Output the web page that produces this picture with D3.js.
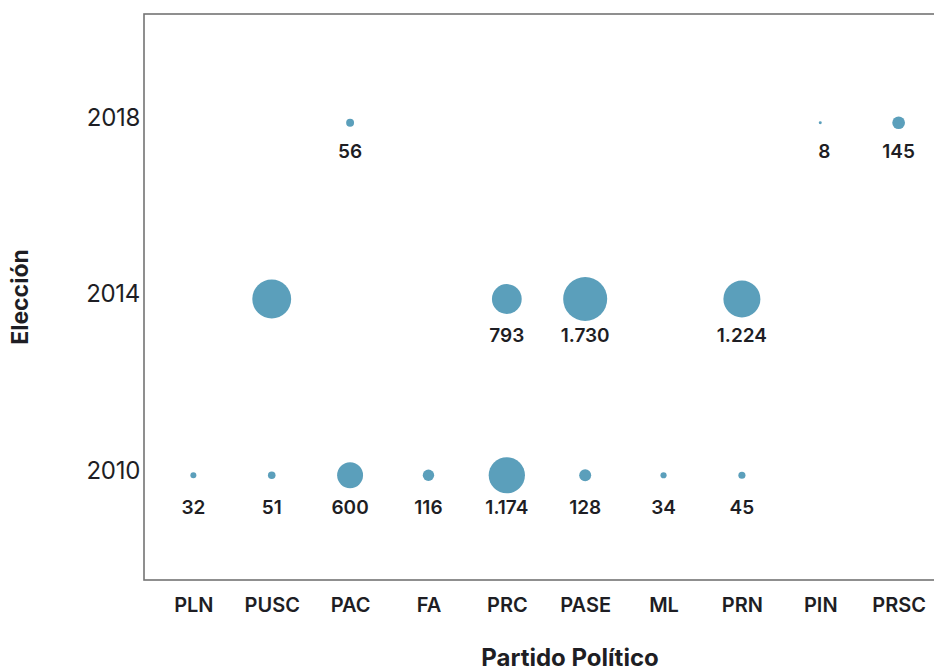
<!DOCTYPE html>
<html>
<head lang="es">
    <meta charset="UTF-8">
    <title>Elección por partido</title>
    <script src="https://cdn.jsdelivr.net/npm/d3@7/dist/d3.min.js"></script>
    <style>
        body{margin:0;background:#fff;}
        text{font-family:Inter,"Noto Sans",sans-serif;fill:#1e1e24;}
    </style>
</head>
<body>
</body>
</html>
<script>
    var partidos=["PLN","PUSC","PAC","FA","PRC","PASE","ML","PRN","PIN","PRSC"];
    var elecciones=["2018","2014","2010"];
    // valores por elección (null = sin burbuja)
    var v2018=[null,null,56,null,null,null,null,null,8,145];
    var v2014=[null,1350,null,null,793,1730,null,1224,null,null];
    var v2010=[32,51,600,116,1174,128,34,45,null,null];
    // PUSC 2014 no lleva etiqueta en el original
    var sinEtiqueta=[["2014","PUSC"]];

    var series={"2018":v2018,"2014":v2014,"2010":v2010};
    var datos=[];
    elecciones.forEach(function(e){
        series[e].forEach(function(v,i){
            if(v!=null){
                var oculto=sinEtiqueta.some(function(s){return s[0]==e&&s[1]==partidos[i];});
                datos.push({eleccion:e,partido:partidos[i],valor:v,etiqueta:!oculto});
            }
        });
    });

    var _fmt=d3.formatLocale({decimal:",",thousands:".",grouping:[3],currency:["",""]}).format(",");

    var W=934,H=671;
    var mLeft=144,mTop=14,mBottom=580,mRight=948;

    var _svg=d3.select('body')
            .append('svg')
            .attr('width',W)
            .attr('height',H);

    var _x=d3.scalePoint()
            .domain(partidos)
            .range([mLeft,mRight])
            .padding(0.63);
    var _y=d3.scalePoint()
            .domain(elecciones)
            .range([mTop+3,mBottom+1])
            .padding(0.6);
    var _r=d3.scaleSqrt()
            .domain([0,d3.max(datos,function(d){return d.valor;})])
            .range([0,22]);

    // marco
    _svg.append('rect')
            .attr('x',mLeft)
            .attr('y',mTop)
            .attr('width',mRight-mLeft+10)
            .attr('height',mBottom-mTop)
            .attr('fill','none')
            .attr('stroke','#747474')
            .attr('stroke-width',1.6);

    // ejes
    var _gy=_svg.append('g')
            .attr('transform','translate('+(mLeft-4)+',0)')
            .call(d3.axisLeft(_y).tickSize(0).tickPadding(0));
    _gy.select('.domain').remove();
    _gy.selectAll('text')
            .style('font-size','24px')
            .style('font-weight',400)
            .style('letter-spacing','-0.3px')
            .attr('dy','0.12em');

    var _gx=_svg.append('g')
            .attr('transform','translate(0,'+(mBottom+18)+')')
            .call(d3.axisBottom(_x).tickSize(0).tickPadding(0));
    _gx.select('.domain').remove();
    _gx.selectAll('text')
            .style('font-size','20px')
            .style('font-weight',600)
            .attr('dy','0.71em');

    // burbujas
    _svg.selectAll('.burbuja')
            .data(datos)
            .enter()
            .append('circle')
            .attr('class','burbuja')
            .attr('cx',function(d){return _x(d.partido);})
            .attr('cy',function(d){return _y(d.eleccion);})
            .attr('r',function(d){return _r(d.valor);})
            .attr('fill','#5b9fbb');

    // etiquetas bajo las burbujas, alineadas por fila
    var maxFila={};
    elecciones.forEach(function(e){
        maxFila[e]=d3.max(series[e],function(v){return v==null?0:_r(v);});
    });
    _svg.selectAll('.valor')
            .data(datos.filter(function(d){return d.etiqueta;}))
            .enter()
            .append('text')
            .attr('class','valor')
            .attr('x',function(d){return _x(d.partido)+(d.partido=="PIN"?4:0);})
            .attr('y',function(d){return _y(d.eleccion)+Math.max(maxFila[d.eleccion],14)+21;})
            .attr('text-anchor','middle')
            .style('font-size','19px')
            .style('font-weight',600)
            .text(function(d){return _fmt(d.valor);});

    // títulos
    _svg.append('text')
            .attr('x',570)
            .attr('y',666)
            .attr('text-anchor','middle')
            .style('font-size','24px')
            .style('font-weight',700)
            .text('Partido Político');
    _svg.append('text')
            .attr('transform','translate(28,297) rotate(-90)')
            .attr('text-anchor','middle')
            .style('font-size','23px')
            .style('font-weight',700)
            .text('Elección');
</script>
